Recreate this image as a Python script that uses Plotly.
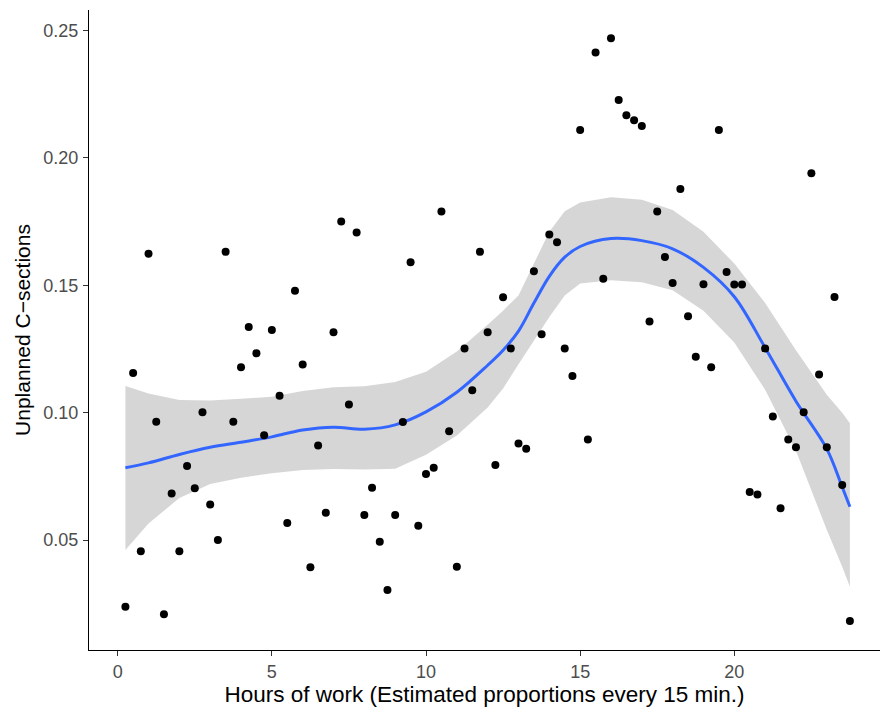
import plotly.graph_objects as go

# Scatter data: hours of work (every 15 min) vs unplanned C-section proportion
hours = [0.25, 0.5, 0.75, 1.0, 1.25, 1.5, 1.75, 2.0, 2.25, 2.5, 2.75, 3.0, 3.25, 3.5, 3.75,
         4.0, 4.25, 4.5, 4.75, 5.0, 5.25, 5.5, 5.75, 6.0, 6.25, 6.5, 6.75, 7.0, 7.25, 7.5,
         7.75, 8.0, 8.25, 8.5, 8.75, 9.0, 9.25, 9.5, 9.75, 10.0, 10.25, 10.5, 10.75, 11.0,
         11.25, 11.5, 11.75, 12.0, 12.25, 12.5, 12.75, 13.0, 13.25, 13.5, 13.75, 14.0, 14.25,
         14.5, 14.75, 15.0, 15.25, 15.5, 15.75, 16.0, 16.25, 16.5, 16.75, 17.0, 17.25, 17.5,
         17.75, 18.0, 18.25, 18.5, 18.75, 19.0, 19.25, 19.5, 19.75, 20.0, 20.25, 20.5, 20.75,
         21.0, 21.25, 21.5, 21.75, 22.0, 22.25, 22.5, 22.75, 23.0, 23.25, 23.5, 23.75]
csections = [0.0238, 0.1156, 0.0456, 0.1624, 0.0964, 0.0209, 0.0683, 0.0456, 0.0791, 0.0703,
             0.1002, 0.0640, 0.0500, 0.1631, 0.0964, 0.1178, 0.1336, 0.1233, 0.0911, 0.1324,
             0.1066, 0.0567, 0.1478, 0.1189, 0.0393, 0.0871, 0.0607, 0.1315, 0.1750, 0.1032,
             0.1707, 0.0598, 0.0705, 0.0493, 0.0304, 0.0598, 0.0963, 0.1590, 0.0556, 0.0759,
             0.0784, 0.1789, 0.0927, 0.0395, 0.1252, 0.1088, 0.1631, 0.1315, 0.0795, 0.1453,
             0.1252, 0.0879, 0.0858, 0.1555, 0.1308, 0.1699, 0.1669, 0.1252, 0.1144, 0.2109,
             0.0895, 0.2413, 0.1525, 0.2469, 0.2227, 0.2167, 0.2147, 0.2125, 0.1358, 0.1789,
             0.1611, 0.1509, 0.1878, 0.1378, 0.1219, 0.1504, 0.1178, 0.2109, 0.1552, 0.1503,
             0.1503, 0.0689, 0.0679, 0.1252, 0.0985, 0.0625, 0.0895, 0.0864, 0.1002, 0.1939,
             0.1150, 0.0864, 0.1454, 0.0716, 0.0182]

# Loess smooth and its confidence band
smooth_x = [0.25, 1, 2, 3, 4, 5, 6, 7, 8, 9, 10, 11, 12, 12.5, 13, 13.5, 14, 14.5, 15,
            16, 17, 18, 19, 20, 21, 22, 23, 23.5, 23.75]
smooth_y = [0.0784, 0.0803, 0.0836, 0.0864, 0.0884, 0.0905, 0.0932, 0.0943, 0.0935, 0.0952,
            0.1003, 0.1080, 0.1186, 0.1245, 0.1320, 0.1430, 0.1535, 0.1610, 0.1652,
            0.1683, 0.1675, 0.1643, 0.1570, 0.1455, 0.1255, 0.1045, 0.0858, 0.0708, 0.0631]
upper = [0.1105, 0.1075, 0.1050, 0.1048, 0.1055, 0.1062, 0.1085, 0.1100, 0.1104, 0.1120,
         0.1160, 0.1240, 0.1345, 0.1400, 0.1460, 0.1585, 0.1710, 0.1790, 0.1825,
         0.1845, 0.1835, 0.1795, 0.1710, 0.1585, 0.1430, 0.1245, 0.1070, 0.1000, 0.0958]
lower = [0.0461, 0.0565, 0.0665, 0.0720, 0.0745, 0.0762, 0.0775, 0.0779, 0.0777, 0.0780,
         0.0835, 0.0910, 0.1020, 0.1095, 0.1190, 0.1285, 0.1375, 0.1460, 0.1507,
         0.1520, 0.1512, 0.1480, 0.1400, 0.1275, 0.1090, 0.0850, 0.0540, 0.0395, 0.0317]

x_ticks = [0, 5, 10, 15, 20]
y_ticks = [0.05, 0.10, 0.15, 0.20, 0.25]
y_tick_text = ["0.05", "0.10", "0.15", "0.20", "0.25"]

fig = go.Figure()
fig.add_trace(go.Scatter(x=smooth_x + smooth_x[::-1], y=upper + lower[::-1],
                         fill="toself", fillcolor="rgba(153,153,153,0.4)",
                         line=dict(width=0), mode="lines", hoverinfo="skip",
                         showlegend=False))
fig.add_trace(go.Scatter(x=smooth_x, y=smooth_y, mode="lines",
                         line=dict(color="#3366FF", width=3, shape="spline"),
                         showlegend=False))
fig.add_trace(go.Scatter(x=hours, y=csections, mode="markers",
                         marker=dict(color="black", size=8), showlegend=False))

font_family = "Liberation Sans, Arial"
axis_common = dict(showgrid=False, zeroline=False, showline=True, linecolor="black",
                   linewidth=1.2, ticks="outside", ticklen=5, tickcolor="#333333",
                   tickwidth=1.1,
                   tickfont=dict(family=font_family, size=18, color="#4D4D4D"))

fig.update_layout(
    width=880, height=710,
    margin=dict(l=89, r=0, t=10, b=60),
    plot_bgcolor="white", paper_bgcolor="white",
    xaxis=dict(range=[-0.931, 24.726], tickvals=x_ticks,
               title=dict(text="Hours of work (Estimated proportions every 15 min.)",
                          standoff=4,
                          font=dict(family=font_family, size=22.5, color="black")),
               **axis_common),
    yaxis=dict(range=[0.00686, 0.2580], tickvals=y_ticks, ticktext=y_tick_text,
               ticklabelstandoff=1,
               title=dict(text="Unplanned C\u2212sections", standoff=6,
                          font=dict(family=font_family, size=21, color="black")),
               **axis_common),
)

fig.write_html("out.html")
